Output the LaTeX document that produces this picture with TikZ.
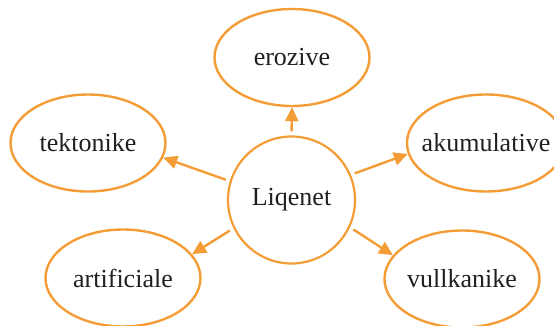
\documentclass[tikz,border=0pt]{standalone}
\usepackage{fontspec}
\setmainfont{Liberation Serif}
\usetikzlibrary{shapes.geometric,arrows.meta}
\definecolor{org}{RGB}{244,157,55}
\definecolor{txt}{RGB}{35,31,32}
\newcommand{\zw}[1]{\makebox[0pt]{#1}}
\begin{document}
\begin{tikzpicture}[x=1pt,y=-1pt,
  bub/.style={ellipse,draw=org,line width=2.4pt,minimum width=155pt,minimum height=97pt,inner sep=0pt,font=\fontsize{26}{30}\selectfont,text=txt},
  hub/.style={circle,draw=org,line width=2.2pt,minimum size=127pt,inner sep=0pt,font=\fontsize{26}{30}\selectfont,text=txt},
  arr/.style={draw=org,line width=2.4pt,-{Triangle[length=14pt,width=13pt]},shorten <=4pt}]
\useasboundingbox (0,0) rectangle (554,326);
\clip (0,0) rectangle (554,326);
\node[hub] (c) at (291.5,200) {\zw{Liqenet}};
\node[bub] (ero) at (292,57.5) {\zw{erozive}};
\node[bub] (tek) at (88,143) {\zw{tektonike}};
\node[bub,minimum width=158pt] (aku) at (486,143) {\zw{akumulative}};
\node[bub] (art) at (123,278) {\zw{artificiale}};
\node[bub] (vul) at (462,279) {\zw{vullkanike}};
\draw[arr] (c.90) -- (ero.south);
\draw[arr] (c.163) -- (tek.-11);
\draw[arr] (c.23.7) -- (aku.188);
\draw[arr] (c.206.4) -- (art.19.4);
\draw[arr] (c.-25.2) -- (vul.161.6);
\end{tikzpicture}
\end{document}
